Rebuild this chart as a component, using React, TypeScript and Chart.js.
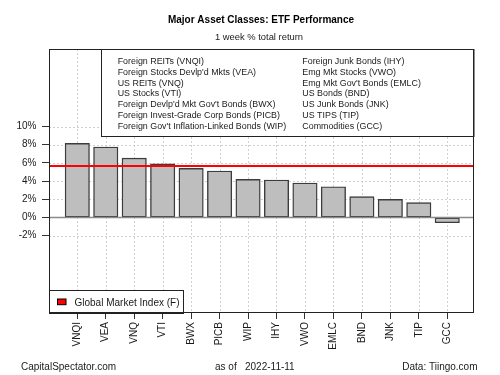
import React, { useEffect, useRef } from "react";
import { Chart, registerables } from "chart.js";

Chart.register(...registerables);

const categories = ["VNQI", "VEA", "VNQ", "VTI", "BWX", "PICB", "WIP", "IHY", "VWO", "EMLC", "BND", "JNK", "TIP", "GCC"];
const returns = [8.15, 7.75, 6.53, 5.9, 5.41, 5.11, 4.2, 4.12, 3.79, 3.38, 2.29, 2.0, 1.63, -0.57];
const globalMarketIndex = 5.66;
const yTicks = [-2, 0, 2, 4, 6, 8, 10];
const legendCol1 = [
  "Foreign REITs (VNQI)",
  "Foreign Stocks Devlp'd Mkts (VEA)",
  "US REITs (VNQ)",
  "US Stocks (VTI)",
  "Foreign Devlp'd Mkt Gov't Bonds (BWX)",
  "Foreign Invest-Grade Corp Bonds (PICB)",
  "Foreign Gov't Inflation-Linked Bonds (WIP)",
];
const legendCol2 = [
  "Foreign Junk Bonds (IHY)",
  "Emg Mkt Stocks (VWO)",
  "Emg Mkt Gov't Bonds (EMLC)",
  "US Bonds (BND)",
  "US Junk Bonds (JNK)",
  "US TIPS (TIP)",
  "Commodities (GCC)",
];
const titleText = "Major Asset Classes: ETF Performance";
const subtitleText = "1 week % total return";
const gmiLabel = "Global Market Index (F)";
const footerLeft = "CapitalSpectator.com";
const footerAsOf = "as of";
const footerDate = "2022-11-11";
const footerRight = "Data: Tiingo.com";

const FONT = '"Liberation Sans", Arial, sans-serif';
const TXT = "#1a1a1a";

const decorPlugin = {
  id: "decor",
  beforeDatasetsDraw(chart: any) {
    const { ctx, chartArea: a, scales } = chart;
    const xs = scales.x;
    const ys = scales.y;
    ctx.save();
    ctx.strokeStyle = "#cfcfcf";
    ctx.lineWidth = 1;
    ctx.setLineDash([2, 2]);
    categories.forEach((_, i) => {
      const x = Math.round(xs.getPixelForValue(i)) + 0.5;
      ctx.beginPath();
      ctx.moveTo(x, a.top);
      ctx.lineTo(x, a.bottom);
      ctx.stroke();
    });
    yTicks.forEach((v) => {
      if (v === 0) return;
      const y = Math.round(ys.getPixelForValue(v)) + 0.5;
      ctx.beginPath();
      ctx.moveTo(a.left, y);
      ctx.lineTo(a.right, y);
      ctx.stroke();
    });
    ctx.restore();
  },
  afterDatasetsDraw(chart: any) {
    const { ctx, chartArea: a, scales } = chart;
    const ys = scales.y;
    ctx.save();
    // zero line
    const y0 = ys.getPixelForValue(0);
    ctx.strokeStyle = "#8a8a8a";
    ctx.lineWidth = 1.6;
    ctx.beginPath();
    ctx.moveTo(a.left, y0);
    ctx.lineTo(a.right, y0);
    ctx.stroke();
    // global market index line
    const yr = ys.getPixelForValue(globalMarketIndex);
    ctx.strokeStyle = "#ff0000";
    ctx.lineWidth = 2;
    ctx.beginPath();
    ctx.moveTo(a.left, yr);
    ctx.lineTo(a.right, yr);
    ctx.stroke();

    // top legend box
    ctx.fillStyle = "#ffffff";
    ctx.fillRect(101.5, a.top, a.right - 101.5, 87);
    ctx.strokeStyle = "#222";
    ctx.lineWidth = 1;
    ctx.strokeRect(101.5, a.top + 0.5, a.right - 101.5, 87);
    ctx.fillStyle = TXT;
    ctx.font = `8.9px ${FONT}`;
    ctx.textAlign = "left";
    ctx.textBaseline = "middle";
    legendCol1.forEach((t, i) => ctx.fillText(t, 117.7, 61.3 + i * 10.9));
    legendCol2.forEach((t, i) => ctx.fillText(t, 302.3, 61.3 + i * 10.9));

    // bottom legend box
    ctx.fillStyle = "#ffffff";
    ctx.fillRect(a.left, 290, 134, a.bottom - 290);
    ctx.strokeStyle = "#222";
    ctx.strokeRect(a.left + 0.5, 290.5, 134, a.bottom - 290);
    ctx.fillStyle = "#ff0000";
    ctx.fillRect(57.5, 299, 8.5, 5.7);
    ctx.strokeStyle = "#000";
    ctx.strokeRect(57.5, 299, 8.5, 5.7);
    ctx.fillStyle = TXT;
    ctx.font = `10px ${FONT}`;
    ctx.fillText(gmiLabel, 74.5, 303);

    // plot frame
    ctx.strokeStyle = "#222";
    ctx.lineWidth = 1;
    ctx.strokeRect(a.left + 0.5, a.top + 0.5, a.right - a.left - 1, a.bottom - a.top - 1);

    // titles
    ctx.fillStyle = "#000";
    ctx.textAlign = "center";
    ctx.font = `bold 10px ${FONT}`;
    ctx.fillText(titleText, 261, 20.5);
    ctx.font = `9.4px ${FONT}`;
    ctx.fillStyle = TXT;
    ctx.fillText(subtitleText, 259, 37);

    // footer
    ctx.font = `10px ${FONT}`;
    ctx.textAlign = "left";
    ctx.fillText(footerLeft, 21, 367);
    ctx.fillText(footerAsOf, 215, 367);
    ctx.fillText(footerDate, 245, 367);
    ctx.textAlign = "right";
    ctx.fillText(footerRight, 477.5, 367);
    ctx.restore();
  },
};

export default function App() {
  const ref = useRef<HTMLCanvasElement>(null);
  useEffect(() => {
    if (!ref.current) return;
    const chart = new Chart(ref.current, {
      type: "bar",
      data: {
        datasets: [
          {
            data: categories.map((c, i) => ({ x: i, y: returns[i] })),
            backgroundColor: "#bebebe",
            borderColor: "#3c3c3c",
            borderWidth: 1.4,
            borderSkipped: false,
            barThickness: 24.4,
          },
        ],
      },
      options: {
        animation: false,
        responsive: false,
        maintainAspectRatio: false,
        layout: { padding: { top: 49, right: 26, left: 0, bottom: 0 } },
        plugins: { legend: { display: false }, tooltip: { enabled: false }, title: { display: false } },
        scales: {
          x: {
            type: "linear",
            offset: false,
            min: -0.994,
            max: 13.94,
            afterBuildTicks: (s: any) => {
              s.ticks = categories.map((_, i) => ({ value: i }));
            },
            afterFit: (s: any) => {
              s.height = 62;
            },
            ticks: {
              autoSkip: false,
              maxRotation: 90,
              minRotation: 90,
              padding: 3,
              color: TXT,
              font: { family: FONT, size: 10, lineHeight: 0.2 },
              callback: (v: any) => categories[Math.round(v)] ?? "",
            },
            grid: { offset: false, drawOnChartArea: false, drawTicks: true, tickLength: 6, color: "#333", lineWidth: 1 },
            border: { display: false },
          },
          y: {
            min: -10.49,
            max: 18.52,
            afterBuildTicks: (s: any) => {
              s.ticks = yTicks.map((v) => ({ value: v }));
            },
            afterFit: (s: any) => {
              s.width = 49;
            },
            ticks: {
              padding: 5.5,
              color: TXT,
              font: { family: FONT, size: 10 },
              callback: (v: any) => `${v}%`,
            },
            grid: { drawOnChartArea: false, drawTicks: true, tickLength: 7, color: "#333", lineWidth: 1 },
            border: { display: false },
          },
        },
      },
      plugins: [decorPlugin],
    });
    return () => chart.destroy();
  }, []);
  return (
    <div style={{ position: "fixed", left: 0, top: 0, width: 500, height: 375, background: "#fff" }}>
      <canvas ref={ref} width={500} height={375} style={{ width: 500, height: 375, display: "block" }} />
    </div>
  );
}
